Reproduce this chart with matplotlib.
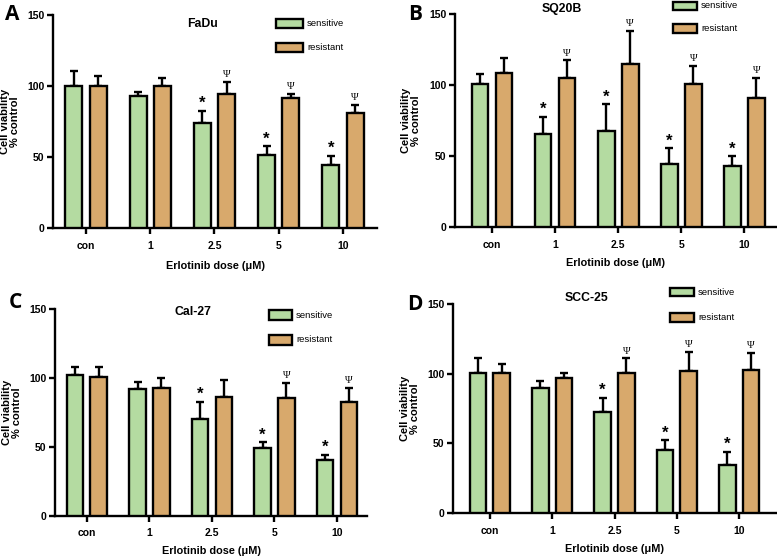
import matplotlib
matplotlib.use('Agg')
import matplotlib.pyplot as plt
from matplotlib.patches import Rectangle
import numpy as np

plt.rcParams['font.family'] = ['Liberation Sans', 'DejaVu Sans']

# ---------------- data ----------------
doses = ['con', '1', '2.5', '5', '10']
series_names = ['sensitive', 'resistant']
cell_lines = ['FaDu', 'SQ20B', 'Cal-27', 'SCC-25']
panel_letters = ['A', 'B', 'C', 'D']

fadu_sens = [100, 93.3, 73.8, 51.3, 44.5]
fadu_sens_err = [10.6, 2.7, 8.7, 6.1, 6.5]
fadu_res = [100, 100, 94.2, 91.6, 81.3]
fadu_res_err = [7.0, 5.5, 8.8, 2.8, 5.4]
fadu_star = [0, 0, 1, 1, 1]
fadu_psi = [0, 0, 1, 1, 1]

sq20b_sens = [100.6, 65.8, 67.5, 44.7, 42.8]
sq20b_sens_err = [6.9, 11.8, 18.8, 10.6, 7.0]
sq20b_res = [108.6, 104.6, 114.5, 100.6, 91.0]
sq20b_res_err = [10.4, 12.7, 23.5, 12.7, 14.0]
sq20b_star = [0, 1, 1, 1, 1]
sq20b_psi = [0, 1, 1, 1, 1]

cal27_sens = [102.3, 91.8, 70.3, 49.4, 40.9]
cal27_sens_err = [5.5, 5.6, 12.6, 3.9, 3.2]
cal27_res = [101.0, 92.6, 86.5, 85.3, 82.4]
cal27_res_err = [6.8, 7.2, 12.1, 10.9, 10.2]
cal27_star = [0, 0, 1, 1, 1]
cal27_psi = [0, 0, 0, 1, 1]

scc25_sens = [100.2, 89.9, 72.6, 45.5, 34.5]
scc25_sens_err = [11.2, 5.0, 10.1, 6.7, 9.4]
scc25_res = [100.2, 97.0, 100.6, 102.0, 102.6]
scc25_res_err = [6.4, 3.2, 10.4, 13.7, 12.4]
scc25_star = [0, 0, 1, 1, 1]
scc25_psi = [0, 0, 1, 1, 1]

# ---------------- layout (pixels) ----------------
W, H = 777, 558
GREEN = '#b4dba1'
TAN = '#d8a96c'
LW = 1.7

def fx(x):
    return x / W

def fy(y):
    return 1 - y / H

panels = [
    dict(data=(fadu_sens, fadu_sens_err, fadu_res, fadu_res_err, fadu_star, fadu_psi),
         ax=(53, 377, 15, 228), xlim=(-0.514, 4.53),
         title=(203, 24), leg=(276, 303, 19, 28, 43, 52), letter=(12, 15),
         ylab=(10,), xlab_y=266),
    dict(data=(sq20b_sens, sq20b_sens_err, sq20b_res, sq20b_res_err, sq20b_star, sq20b_psi),
         ax=(455, 776, 14, 227), xlim=(-0.585, 4.5),
         title=(562, 9), leg=(673, 697, 2, 10, 24, 33), letter=(415, 15),
         ylab=(411,), xlab_y=263),
    dict(data=(cal27_sens, cal27_sens_err, cal27_res, cal27_res_err, cal27_star, cal27_psi),
         ax=(55, 367, 309, 516), xlim=(-0.51, 4.48),
         title=(193, 312), leg=(269, 292, 310, 320, 335, 345), letter=(15, 303),
         ylab=(12,), xlab_y=551),
    dict(data=(scc25_sens, scc25_sens_err, scc25_res, scc25_res_err, scc25_star, scc25_psi),
         ax=(453, 776, 304, 513), xlim=(-0.59, 4.59),
         title=(587, 298), leg=(670, 694, 288, 296, 313, 322), letter=(415, 305),
         ylab=(410,), xlab_y=549),
]

fig = plt.figure(figsize=(W / 100, H / 100), dpi=100)

x = np.arange(len(doses))
bw = 0.265
off = 0.19

for i, p in enumerate(panels):
    sens, sens_err, res, res_err, star, psi = p['data']
    l, r, t, b = p['ax']
    ax = fig.add_axes([fx(l), fy(b), (r - l) / W, (b - t) / H])
    ax.bar(x - off, sens, bw, color=GREEN, edgecolor='black', linewidth=LW, zorder=3)
    ax.bar(x + off, res, bw, color=TAN, edgecolor='black', linewidth=LW, zorder=3)
    ax.errorbar(x - off, sens, yerr=[np.zeros(len(sens)), sens_err], fmt='none',
                ecolor='black', elinewidth=LW, capsize=3, capthick=LW, zorder=2)
    ax.errorbar(x + off, res, yerr=[np.zeros(len(res)), res_err], fmt='none',
                ecolor='black', elinewidth=LW, capsize=3, capthick=LW, zorder=2)
    for k in range(len(doses)):
        if star[k]:
            ax.annotate('*', (x[k] - off, sens[k] + sens_err[k]), xytext=(0, 0),
                        textcoords='offset points', ha='center', va='bottom',
                        fontsize=12, fontweight='bold')
        if psi[k]:
            ax.annotate('\u03a8', (x[k] + off, res[k] + res_err[k]), xytext=(0, 2),
                        textcoords='offset points', ha='center', va='bottom',
                        fontsize=7.5, family=['Liberation Serif', 'DejaVu Serif'])
    ax.set_xlim(*p['xlim'])
    ax.set_ylim(0, 150)
    ax.set_yticks([0, 50, 100, 150])
    ax.set_xticks(x)
    ax.set_xticklabels(doses)
    for s in ['top', 'right']:
        ax.spines[s].set_visible(False)
    for s in ['left', 'bottom']:
        ax.spines[s].set_linewidth(LW)
    ax.tick_params(axis='both', width=LW, length=4, labelsize=7.5, pad=2)
    ax.tick_params(axis='x', pad=5)
    for lab in ax.get_xticklabels() + ax.get_yticklabels():
        lab.set_fontweight('bold')
    ax.patch.set_alpha(0)

    # y label
    cy = (t + b) / 2
    fig.text(fx(p['ylab'][0]), fy(cy), 'Cell viability\n% control', rotation=90,
             ha='center', va='center', fontsize=8, fontweight='bold', linespacing=1.05)
    # x label
    cx = (l + r) / 2
    fig.text(fx(cx), fy(p['xlab_y']), 'Erlotinib dose (\u03bcM)', ha='center', va='center',
             fontsize=7.8, fontweight='bold')
    # title
    fig.text(fx(p['title'][0]), fy(p['title'][1]), cell_lines[i], ha='center', va='center',
             fontsize=8.8, fontweight='bold')
    # panel letter
    fig.text(fx(p['letter'][0]), fy(p['letter'][1]), panel_letters[i], ha='center', va='center',
             fontsize=15, fontweight='bold', family=['Open Sans', 'DejaVu Sans'])
    # legend
    bx0, bx1, s0, s1, r0, r1 = p['leg']
    for (y0, y1), col, name in [((s0, s1), GREEN, series_names[0]), ((r0, r1), TAN, series_names[1])]:
        fig.patches.append(Rectangle((fx(bx0), fy(y1)), (bx1 - bx0) / W, (y1 - y0) / H,
                                     transform=fig.transFigure, facecolor=col,
                                     edgecolor='black', linewidth=LW))
        fig.text(fx(bx1 + 4), fy((y0 + y1) / 2), name, ha='left', va='center', fontsize=6.8)

fig.savefig('out.png', dpi=100)
